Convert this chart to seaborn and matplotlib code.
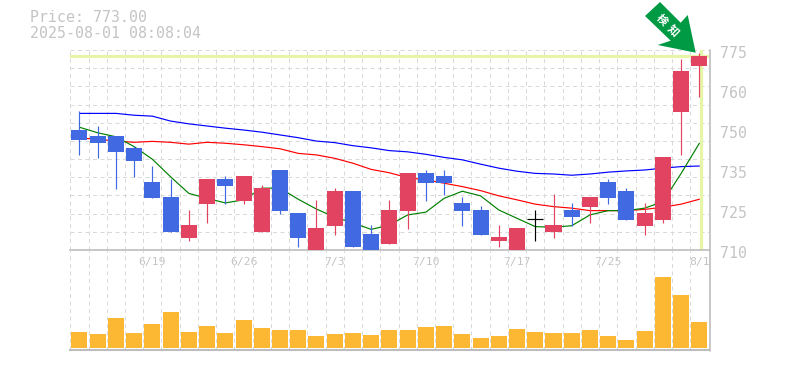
import numpy as np
import matplotlib
matplotlib.use('Agg')
import matplotlib.pyplot as plt
import seaborn as sns

# OHLC por pregao
opens = [749, 747.05, 747.05, 743.15, 732.1, 727.2, 713.9, 724.95, 733.1, 725.9, 715.85, 736, 722, 710, 717.8,
         729.2, 715.2, 711.95, 722.7, 735, 734.05, 725.3, 723, 712.9, 710, 720.1, 715.85, 723, 724, 732.1,
         729.2, 717.8, 719.75, 754.85, 769.8]
closes = [745.75, 744.8, 741.85, 738.9, 726.9, 715.85, 718.1, 733.1, 730.8, 734.05, 730.15, 722.7, 713.9, 717.15, 729.2,
          711, 710, 723, 735, 731.8, 731.8, 722.7, 714.9, 714.2, 717.15, 720.1, 718.1, 720.7, 727.2, 726.9,
          719.75, 722, 740.2, 768.2, 773]
highs = [755.2, 750.3, 747.05, 743.8, 737.3, 733.1, 723, 733.1, 734, 734.05, 731.1, 736, 722, 726.25, 730.15,
         729.2, 718.1, 726.25, 735, 736, 736, 727.2, 724.3, 718.1, 717.15, 723, 728.2, 725.3, 727.2, 733.1,
         730.15, 725.3, 740.2, 772.1, 774]
lows = [740.9, 739.9, 729.8, 733.7, 726.9, 715.85, 712.9, 718.8, 724.95, 724.95, 715.85, 721.7, 711, 710, 714.9,
        711, 710, 711.95, 716.8, 725.9, 727.9, 717.8, 714.9, 711, 710, 712.9, 713.9, 717.8, 718.8, 724.95,
        719.75, 714.9, 718.8, 740.9, 759.7]

ma_short = [749.9, 748.1, 746.8, 743.6, 739.5, 733.8, 728.4, 726.8, 725.3, 726.3, 730.1, 730.1, 726.5, 723.3, 720.7,
            718.8, 716.7, 718.1, 721.4, 722.3, 726.8, 729.1, 727.6, 723, 720.3, 717.6, 717.4, 717.9, 721.4, 722.8,
            722.8, 723.6, 725.7, 734.9, 744.7]
ma_mid = [746.4, 746, 745.4, 745, 745.3, 745, 744.4, 745, 744.7, 744.2, 743.6, 742.9, 741.4, 740.9, 739.8,
          738.2, 736.2, 735.1, 733.5, 732.8, 731.7, 730.6, 729.3, 727.6, 726.3, 724.9, 724.1, 723.6, 722.8, 722.8,
          722.8, 723.2, 723.9, 724.9, 726.5]
ma_long = [754.4, 754.4, 754.4, 753.8, 753.5, 751.9, 751, 750.3, 749.6, 749, 748.3, 747.4, 746.5, 745.4, 744.9,
           743.9, 743.2, 742.3, 741.9, 741.1, 740.1, 739.3, 737.9, 736.6, 735.6, 734.9, 734.7, 734.3, 734.7, 735.3,
           735.7, 736, 736.6, 737.1, 737.3]

volumes = [16, 14, 30, 15, 24, 36, 16, 22, 15, 28, 20, 18, 18, 12, 14, 15, 13, 18, 18, 21, 22, 14, 10, 12, 19, 16,
           15, 15, 18, 12, 8, 17, 71, 53, 26]

date_pos = [4, 9, 14, 19, 24, 29, 34]
date_labels = ['6/19', '6/26', '7/3', '7/10', '7/17', '7/25', '8/1']
price_ticks = [775, 762, 749, 736, 723, 710]
price_labels = ['775', '760', '750', '735', '725', '710']

RED = '#E24361'
BLUE = '#4169E1'
GRID = '#D9D9D9'
BORDER = '#BDBDBD'
TXT = '#C4C4C4'
BAND = '#E6F5A8'
DASH = (0, (4, 3.5))

sns.set_theme(style='white')
plt.rcParams['font.family'] = ['DejaVu Sans Mono', 'Noto Sans CJK JP']

W, H = 785, 370
fig = plt.figure(figsize=(W / 100, H / 100), dpi=100)
ax = fig.add_axes([70.3 / W, 1 - 250 / H, 638.2 / W, 200 / H])
ax_vol = fig.add_axes([70.3 / W, 1 - 350 / H, 638.2 / W, 100 / H], facecolor='none')

days = np.arange(len(opens))
slots = np.arange(len(opens) + 1) - 0.5

# --- precos
ax.set_xlim(-0.5, 34.5)
ax.set_ylim(710, 775)
ax.set_xticks(slots, minor=True)
ax.set_yticks(np.linspace(710, 775, 12))
ax.grid(True, which='minor', axis='x', color=GRID, lw=0.72, ls=DASH)
ax.grid(True, which='major', axis='y', color=GRID, lw=0.72, ls=DASH)
ax.set_axisbelow(True)

# faixa do ultimo preco
ax.axhline(closes[-1], color=BAND, lw=2.3, zorder=1)
ax.axvline(days[-1] + 0.07, ymin=0.005, color=BAND, lw=2.4, zorder=1)

sns.lineplot(x=days, y=ma_long, ax=ax, color='#0000FF', lw=0.85, errorbar=None, zorder=2)
sns.lineplot(x=days, y=ma_mid, ax=ax, color='#FF0000', lw=0.85, errorbar=None, zorder=2)
sns.lineplot(x=days, y=ma_short, ax=ax, color='#008000', lw=0.85, errorbar=None, zorder=2)

for d, o, h, l, c in zip(days, opens, highs, lows, closes):
    if c == o:
        ax.vlines(d, l, h, color='black', lw=0.85, zorder=3)
        ax.hlines(c, d - 0.44, d + 0.44, color='black', lw=0.85, zorder=3)
        continue
    col = RED if c > o else BLUE
    ax.vlines(d, l, h, color=col, lw=0.85, zorder=3)
    ax.bar(d, abs(c - o), bottom=min(o, c), width=0.88, color=col, linewidth=0, zorder=3)

ax.set_xticks(date_pos)
ax.set_xticklabels(date_labels, fontsize=8.2, color=TXT)
ax.tick_params(axis='x', which='both', length=0, pad=5)
ax.tick_params(axis='y', length=0, labelleft=False)
for p, lab in zip(price_ticks, price_labels):
    ax.annotate(lab, xy=(1, p), xycoords=ax.get_yaxis_transform(), xytext=(11.5, -3),
                textcoords='offset pixels', fontsize=10.7, color=TXT, va='center', ha='left',
                annotation_clip=False)

for s in ['top', 'left', 'right']:
    ax.spines[s].set_visible(False)
ax.spines['bottom'].set_color(BORDER)
ax.spines['bottom'].set_linewidth(1.2)

# --- volume
sns.barplot(x=days, y=volumes, ax=ax_vol, color='#FDB833', width=0.88, saturation=1, linewidth=0, zorder=3)
ax_vol.set_xlim(-0.5, 34.5)
ax_vol.set_ylim(-2, 98)
ax_vol.set_xticks(slots)
ax_vol.set_xticklabels([])
ax_vol.set_yticks([])
ax_vol.grid(True, axis='x', color=GRID, lw=0.72, ls=DASH)
ax_vol.set_axisbelow(True)
ax_vol.tick_params(length=0)
for s in ['top', 'left', 'right']:
    ax_vol.spines[s].set_visible(False)
ax_vol.spines['bottom'].set_color(BORDER)
ax_vol.spines['bottom'].set_linewidth(1.5)
ax_vol.set_xlabel('')
ax_vol.set_ylabel('')

# linha direita continua pelos dois paineis
fig.add_artist(plt.Line2D([709.5 / W, 709.5 / W], [1 - 50 / H, 1 - 350.5 / H], color=BORDER, lw=1.2))

# seta verde
arrow_px = [(660, 2), (645, 16), (670.7, 40.7), (657.7, 45), (695.7, 52.7), (687.7, 15), (680.7, 22.7)]
fig.add_artist(plt.Polygon([(x / W, 1 - y / H) for x, y in arrow_px], closed=True,
                           transform=fig.transFigure, color='#009944', lw=0, zorder=5))
for (cx, cy), ch in zip([(661.7, 20), (672.7, 30.7)], '検知'):
    fig.text(cx / W, 1 - cy / H, ch, color='white', fontsize=8, fontweight='bold', rotation=-45,
             rotation_mode='anchor', ha='center', va='center', family=['Noto Sans CJK JP'], zorder=6)

fig.text(30 / W, 1 - 18 / H, 'Price: 773.00', fontsize=10.7, color=TXT, va='center')
fig.text(30 / W, 1 - 33 / H, '2025-08-01 08:08:04', fontsize=10.7, color=TXT, va='center')

fig.savefig('out.png', dpi=100)
